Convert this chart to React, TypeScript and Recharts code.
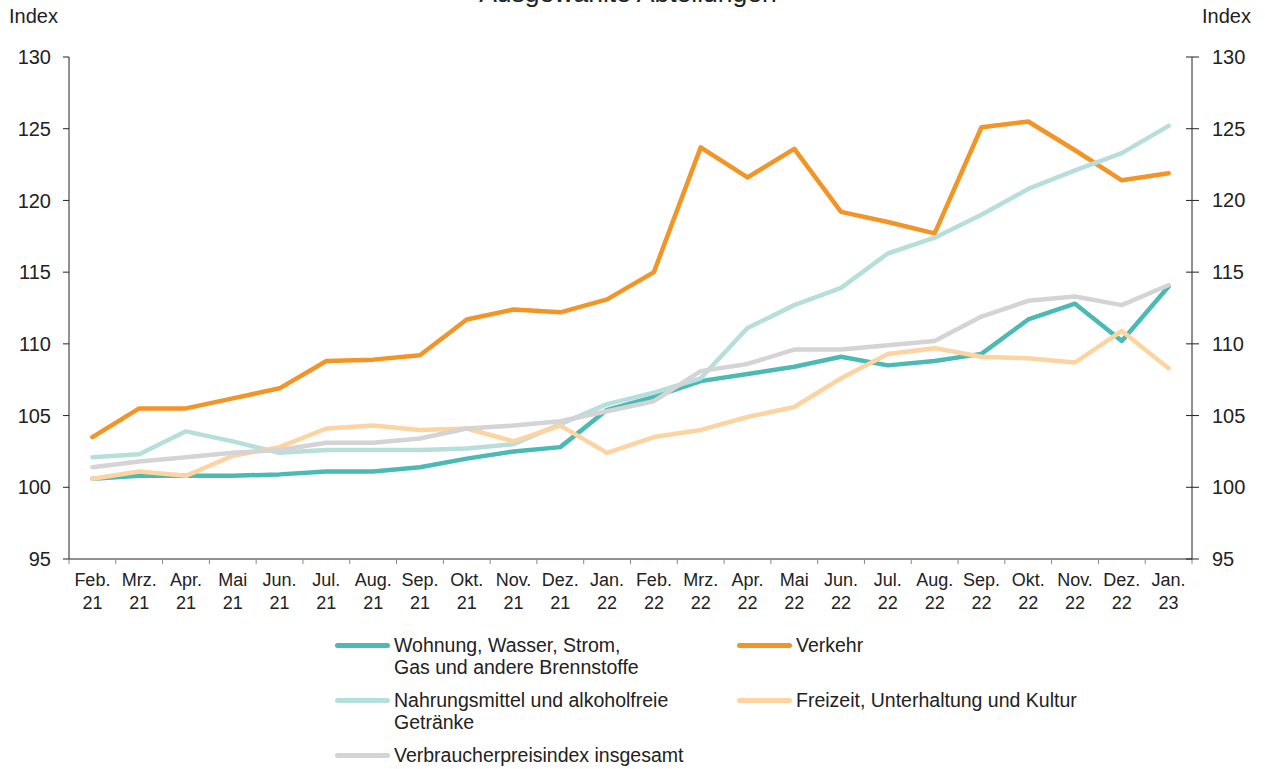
import React from "react";
import { LineChart, Line, XAxis, YAxis } from "recharts";

const months = ["Feb.", "Mrz.", "Apr.", "Mai", "Jun.", "Jul.", "Aug.", "Sep.", "Okt.", "Nov.", "Dez.", "Jan.",
  "Feb.", "Mrz.", "Apr.", "Mai", "Jun.", "Jul.", "Aug.", "Sep.", "Okt.", "Nov.", "Dez.", "Jan."];
const years = ["21", "21", "21", "21", "21", "21", "21", "21", "21", "21", "21", "22",
  "22", "22", "22", "22", "22", "22", "22", "22", "22", "22", "22", "23"];

const wohnung = [100.6, 100.8, 100.8, 100.8, 100.9, 101.1, 101.1, 101.4, 102.0, 102.5, 102.8, 105.4,
  106.3, 107.4, 107.9, 108.4, 109.1, 108.5, 108.8, 109.3, 111.7, 112.8, 110.2, 114.0];
const verkehr = [103.5, 105.5, 105.5, 106.2, 106.9, 108.8, 108.9, 109.2, 111.7, 112.4, 112.2, 113.1,
  115.0, 123.7, 121.6, 123.6, 119.2, 118.5, 117.7, 125.1, 125.5, 123.5, 121.4, 121.9];
const nahrung = [102.1, 102.3, 103.9, 103.2, 102.4, 102.6, 102.6, 102.6, 102.7, 103.0, 104.4, 105.8,
  106.6, 107.6, 111.1, 112.7, 113.9, 116.3, 117.4, 119.0, 120.8, 122.1, 123.3, 125.2];
const freizeit = [100.6, 101.1, 100.8, 102.2, 102.8, 104.1, 104.3, 104.0, 104.1, 103.2, 104.3, 102.4,
  103.5, 104.0, 104.9, 105.6, 107.6, 109.3, 109.7, 109.1, 109.0, 108.7, 110.9, 108.3];
const vpi = [101.4, 101.8, 102.1, 102.4, 102.6, 103.1, 103.1, 103.4, 104.1, 104.3, 104.6, 105.3,
  106.0, 108.1, 108.6, 109.6, 109.6, 109.9, 110.2, 111.9, 113.0, 113.3, 112.7, 114.1];

const yTicks = [95, 100, 105, 110, 115, 120, 125, 130];

// same domain on both axes, so the last series can sit on the right one
const series = [
  { key: "wohnung", axis: "left", color: "#4bbab5", label: ["Wohnung, Wasser, Strom,", "Gas und andere Brennstoffe"] },
  { key: "verkehr", axis: "left", color: "#f39426", label: ["Verkehr"] },
  { key: "nahrung", axis: "left", color: "#b6dfdc", label: ["Nahrungsmittel und alkoholfreie", "Getränke"] },
  { key: "freizeit", axis: "left", color: "#fdd3a2", label: ["Freizeit, Unterhaltung und Kultur"] },
  { key: "vpi", axis: "right", color: "#d4d4d6", label: ["Verbraucherpreisindex insgesamt"] },
];

const data = months.map((m, i) => ({
  i,
  wohnung: wohnung[i],
  verkehr: verkehr[i],
  nahrung: nahrung[i],
  freizeit: freizeit[i],
  vpi: vpi[i],
}));

const FONT = '"Liberation Sans", Arial, sans-serif';
const TXT = "#222";
const HALF = 1123 / 24 / 2;

const XTick = (props: any) => {
  const { x, y, payload, index } = props;
  const i = payload.value;
  return (
    <g>
      <line x1={x - HALF} y1={y} x2={x - HALF} y2={y + 5} stroke="#888" />
      {index === months.length - 1 && <line x1={x + HALF} y1={y} x2={x + HALF} y2={y + 5} stroke="#888" />}
      <text x={x} y={y + 27} textAnchor="middle" fontSize={18} fill={TXT} fontFamily={FONT}>
        <tspan x={x} dy={0}>{months[i]}</tspan>
        <tspan x={x} dy={23}>{years[i]}</tspan>
      </text>
    </g>
  );
};

const RightTick = (props: any) => {
  const { x, y, payload } = props;
  const ax = x - 20;
  return (
    <g>
      <line x1={ax - 6} y1={y} x2={ax + 7} y2={y} stroke={TXT} />
      <text x={x} y={y} dy={7} textAnchor="start" fontSize={20} fill={TXT} fontFamily={FONT}>
        {payload.value}
      </text>
    </g>
  );
};

export default function App() {
  const legendPos = [
    { left: 335, top: 634 },
    { left: 737, top: 634 },
    { left: 335, top: 689 },
    { left: 737, top: 689 },
    { left: 335, top: 744 },
  ];
  return (
    <div style={{ position: "absolute", left: 0, top: 0, width: 1265, height: 769, background: "#fff", fontFamily: FONT, color: TXT, overflow: "hidden" }}>
      <div style={{ position: "absolute", left: 0, width: 1256, top: -20, textAlign: "center", fontSize: 26.5, lineHeight: "26px" }}>
        Ausgewählte Abteilungen
      </div>
      <div style={{ position: "absolute", left: 9, top: 6, fontSize: 20, lineHeight: "20px" }}>Index</div>
      <div style={{ position: "absolute", left: 1202, top: 6, fontSize: 20, lineHeight: "20px" }}>Index</div>

      <LineChart width={1265} height={769} data={data} margin={{ top: 57, right: 0, bottom: 150, left: 0 }}>
        <XAxis
          dataKey="i"
          type="number"
          domain={[-0.5, 23.5]}
          ticks={data.map((d) => d.i)}
          interval={0}
          height={60}
          tickLine={false}
          tickSize={0}
          tickMargin={0}
          axisLine={{ stroke: TXT }}
          tick={<XTick />}
          allowDataOverflow
        />
        <YAxis
          yAxisId="left"
          width={69}
          domain={[95, 130]}
          ticks={yTicks}
          interval={0}
          tickSize={6}
          tickMargin={12}
          axisLine={{ stroke: TXT }}
          tickLine={{ stroke: TXT }}
          tick={{ fontSize: 20, fill: TXT, fontFamily: FONT }}
          allowDataOverflow
        />
        <YAxis
          yAxisId="right"
          orientation="right"
          width={73}
          domain={[95, 130]}
          ticks={yTicks}
          interval={0}
          tickSize={7}
          tickMargin={13}
          axisLine={{ stroke: TXT }}
          tickLine={false}
          tick={<RightTick />}
          allowDataOverflow
        />
        {series.map((s) => (
          <Line
            key={s.key}
            yAxisId={s.axis}
            type="linear"
            dataKey={s.key}
            stroke={s.color}
            strokeWidth={4.5}
            strokeLinecap="round"
            strokeLinejoin="round"
            dot={false}
            activeDot={false}
            isAnimationActive={false}
          />
        ))}
      </LineChart>

      {series.map((s, k) => (
        <div key={s.key} style={{ position: "absolute", left: legendPos[k].left, top: legendPos[k].top }}>
          <div style={{ position: "absolute", left: 0, top: 8.5, width: 55, height: 5, borderRadius: 3, background: s.color }} />
          <div style={{ position: "absolute", left: 59, top: 0, fontSize: 19.5, lineHeight: "22px", whiteSpace: "nowrap" }}>
            {s.label.map((t, j) => (
              <div key={j}>{t}</div>
            ))}
          </div>
        </div>
      ))}
    </div>
  );
}
